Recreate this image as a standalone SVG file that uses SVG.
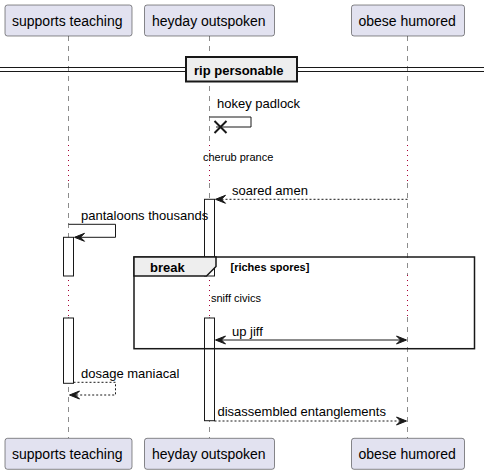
<svg xmlns="http://www.w3.org/2000/svg" width="490" height="474" viewBox="0 0 490 474">
<style>
.part{fill:#E2E2F0;stroke:#181818;stroke-width:0.5}
.pt{font-family:"Liberation Sans",Arial,sans-serif;font-size:14px;fill:#000}
.msg{font-family:"Liberation Sans",Arial,sans-serif;font-size:13px;fill:#000}
.small{font-family:"Liberation Sans",Arial,sans-serif;font-size:11px;fill:#000}
.life{stroke:#181818;stroke-width:0.5;stroke-dasharray:5,5;fill:none}
.delay{stroke:#A80036;stroke-width:1;stroke-dasharray:1,4;fill:none}
.act{fill:#FFFFFF;stroke:#181818;stroke-width:1}
.line{stroke:#181818;stroke-width:1;fill:none}
.dash{stroke:#181818;stroke-width:1;fill:none;stroke-dasharray:2,2}
.head{fill:#181818;stroke:#181818;stroke-width:1}
</style>
<rect width="490" height="474" fill="#FFFFFF"/>
<g id="lifelines">
<path class="life" d="M68.5,36V145M68.5,183V275M68.5,317V438"/>
<path class="life" d="M209.5,36V145M209.5,183V275M209.5,317V438"/>
<path class="life" d="M407.5,36V145M407.5,183V275M407.5,317V438"/>
<path class="delay" d="M68.5,145V183M68.5,275V317"/>
<path class="delay" d="M209.5,145V183M209.5,275V317"/>
<path class="delay" d="M407.5,145V183M407.5,275V317"/>
</g>
<g id="activations">
<rect class="act" x="63.5" y="237.3" width="10" height="38.7"/>
<rect class="act" x="63.5" y="318" width="10" height="65.3"/>
<rect class="act" x="204.5" y="199.3" width="10" height="76.7"/>
<rect class="act" x="204.5" y="318" width="10" height="102.7"/>
</g>
<g id="divider">
<line x1="0" y1="67.5" x2="484" y2="67.5" stroke="#181818" stroke-width="1"/>
<line x1="0" y1="71.5" x2="484" y2="71.5" stroke="#181818" stroke-width="1"/>
<rect x="186" y="57" width="111" height="24.5" fill="#EEEEEE" stroke="#181818" stroke-width="2"/>
<text x="194" y="75" font-family="Liberation Sans,Arial,sans-serif" font-size="13" font-weight="bold">rip personable</text>
</g>
<g id="break">
<rect x="134" y="257" width="340.5" height="91.7" fill="none" stroke="#181818" stroke-width="1.5"/>
<path d="M134,257H216V266.5L206.5,276H134Z" fill="#EEEEEE" stroke="#181818" stroke-width="1.5"/>
<text x="150" y="271.5" font-family="Liberation Sans,Arial,sans-serif" font-size="13" font-weight="bold">break</text>
<text x="230.5" y="270.5" font-family="Liberation Sans,Arial,sans-serif" font-size="11" font-weight="bold">[riches spores]</text>
</g>
<g id="connectors">
<path class="line" d="M209.5,117H251V127H216"/>
<path d="M214.5,121L226.5,133M214.5,133L226.5,121" stroke="#181818" stroke-width="2"/>
<text class="msg" x="217" y="108">hokey padlock</text>
<text class="small" x="203" y="161">cherub prance</text>
<path class="dash" d="M407.5,199.3H216"/>
<polygon class="head" points="215.5,199.3 225.5,195.3 221.5,199.3 225.5,203.3"/>
<text class="msg" x="232" y="195">soared amen</text>
<path class="line" d="M68.5,224.3H115.5V237.3H75"/>
<polygon class="head" points="74.5,237.3 84.5,233.3 80.5,237.3 84.5,241.3"/>
<text class="msg" x="81" y="220">pantaloons thousands</text>
<text class="small" x="211" y="302">sniff civics</text>
<path class="line" d="M216,340H406"/>
<polygon class="head" points="215.5,340 225.5,336 221.5,340 225.5,344"/>
<polygon class="head" points="406.5,340 396.5,336 400.5,340 396.5,344"/>
<text class="msg" x="232" y="336">up jiff</text>
<path class="dash" d="M73.5,382.3H115.5V395H70"/>
<polygon class="head" points="69.5,395 79.5,391 75.5,395 79.5,399"/>
<text class="msg" x="81" y="377.5">dosage maniacal</text>
<path class="dash" d="M214.5,421H406"/>
<polygon class="head" points="406.5,421 396.5,417 400.5,421 396.5,425"/>
<text class="msg" x="217.5" y="416">disassembled entanglements</text>
</g>
<g id="p-supports-top"><rect class="part" x="5" y="5" width="127" height="31" rx="2.5"/><text class="pt" x="12" y="25.5">supports teaching</text></g>
<g id="p-heyday-top"><rect class="part" x="144.5" y="5" width="130" height="31" rx="2.5"/><text class="pt" x="152" y="25.5">heyday outspoken</text></g>
<g id="p-obese-top"><rect class="part" x="351.5" y="5" width="113" height="31" rx="2.5"/><text class="pt" x="358.5" y="25.5">obese humored</text></g>
<g id="p-supports-bottom"><rect class="part" x="5" y="438.3" width="127" height="31" rx="2.5"/><text class="pt" x="12" y="459">supports teaching</text></g>
<g id="p-heyday-bottom"><rect class="part" x="144.5" y="438.3" width="130" height="31" rx="2.5"/><text class="pt" x="152" y="459">heyday outspoken</text></g>
<g id="p-obese-bottom"><rect class="part" x="351.5" y="438.3" width="113" height="31" rx="2.5"/><text class="pt" x="358.5" y="459">obese humored</text></g>
</svg>
